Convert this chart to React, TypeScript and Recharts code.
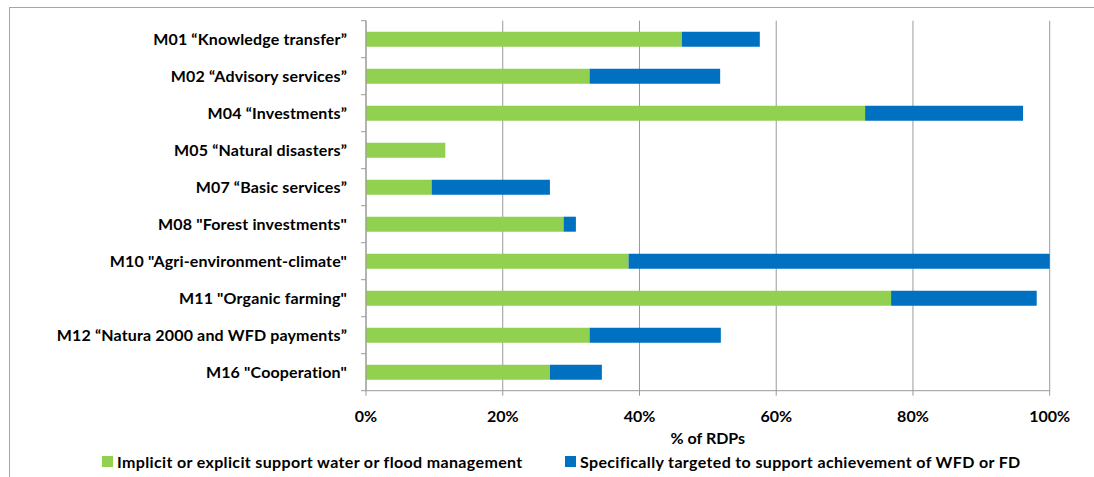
import React from 'react';
import { BarChart, Bar, XAxis, YAxis, CartesianGrid } from 'recharts';

const categories = [
  'M01 “Knowledge transfer”',
  'M02 “Advisory services”',
  'M04 “Investments”',
  'M05 “Natural disasters”',
  'M07 “Basic services”',
  'M08 "Forest investments"',
  'M10 "Agri-environment-climate"',
  'M11 "Organic farming"',
  'M12 “Natura 2000 and WFD payments”',
  'M16 "Cooperation"',
];

const implicitSupport = [46.2, 32.7, 73.0, 11.6, 9.6, 28.9, 38.4, 76.8, 32.7, 26.9];
const specificallyTargeted = [11.4, 19.1, 23.1, 0, 17.3, 1.8, 61.6, 21.3, 19.2, 7.6];

const seriesNames = [
  'Implicit or explicit support water or flood management',
  'Specifically targeted to support achievement of WFD or FD',
];
const seriesColors = ['#92D050', '#0070C0'];

const xTicks = [0, 20, 40, 60, 80, 100];
const xAxisTitle = '% of RDPs';

const data = categories.map((name, i) => ({
  name,
  implicit: implicitSupport[i],
  specific: specificallyTargeted[i],
}));

const FONT = 'Lato, "Liberation Sans", sans-serif';
const GRID = '#9a9a9a';
const TICK_SIZE = 5;
const TICK_MARGIN = 14;

const YTick = (props: any) => {
  const { x, y, payload, index, visibleTicksCount } = props;
  const axisX = x + TICK_SIZE + TICK_MARGIN;
  const half = payload && payload.offset ? payload.offset : 0;
  const isLast = visibleTicksCount ? index === visibleTicksCount - 1 : false;
  return (
    <g>
      <line x1={axisX - TICK_SIZE} x2={axisX} y1={y - half} y2={y - half} stroke={GRID} />
      {isLast && <line x1={axisX - TICK_SIZE} x2={axisX} y1={y + half} y2={y + half} stroke={GRID} />}
      <text
        x={x}
        y={y}
        dy="0.36em"
        textAnchor="end"
        fontFamily={FONT}
        fontWeight={700}
        fontSize={16}
        letterSpacing={0.15}
        fill="#000"
      >
        {payload.value}
      </text>
    </g>
  );
};

const XTick = (props: any) => {
  const { x, y, payload } = props;
  return (
    <text x={x} y={y} dy={24} textAnchor="middle" fontFamily={FONT} fontWeight={700} fontSize={16} fill="#000">
      {`${payload.value}%`}
    </text>
  );
};

const XTitle = (props: any) => {
  const vb = props.viewBox || {};
  return (
    <text x={vb.x + vb.width / 2} y={vb.y + 53} textAnchor="middle" fontFamily={FONT} fontWeight={700} fontSize={16} fill="#000">
      {xAxisTitle}
    </text>
  );
};

const legendLeft = [102, 565];

export default function App() {
  return (
    <div style={{ position: 'absolute', left: 0, top: 0, width: 1094, height: 477, background: '#fff', overflow: 'hidden' }}>
      <div
        style={{
          position: 'absolute',
          left: 9,
          top: 7,
          width: 1100,
          height: 480,
          borderLeft: '1px solid #a6a6a6',
          borderTop: '1px solid #a6a6a6',
        }}
      />
      <div style={{ position: 'absolute', left: 0, top: 0 }}>
        <BarChart
          width={1094}
          height={477}
          data={data}
          layout="vertical"
          margin={{ top: 20.7, right: 44.3, bottom: 56.3, left: 0 }}
        >
          <CartesianGrid horizontal={false} stroke={GRID} strokeWidth={1} />
          <XAxis
            type="number"
            domain={[0, 100]}
            ticks={xTicks}
            interval={0}
            height={30}
            tickSize={TICK_SIZE}
            axisLine={{ stroke: GRID }}
            tickLine={{ stroke: GRID }}
            tick={<XTick />}
            label={<XTitle />}
          />
          <YAxis
            type="category"
            dataKey="name"
            width={366}
            interval={0}
            tickSize={TICK_SIZE}
            tickMargin={TICK_MARGIN}
            tickLine={false}
            axisLine={{ stroke: GRID }}
            tick={<YTick />}
          />
          <Bar dataKey="implicit" name={seriesNames[0]} stackId="a" fill={seriesColors[0]} barSize={15} isAnimationActive={false} />
          <Bar dataKey="specific" name={seriesNames[1]} stackId="a" fill={seriesColors[1]} barSize={15} isAnimationActive={false} />
        </BarChart>
      </div>
      {seriesNames.map((n, i) => (
        <div
          key={n}
          style={{
            position: 'absolute',
            left: legendLeft[i],
            top: 452,
            height: 18,
            display: 'flex',
            alignItems: 'center',
            whiteSpace: 'nowrap',
            fontFamily: FONT,
            fontWeight: 700,
            fontSize: 16,
            letterSpacing: 0.35,
            color: '#000',
          }}
        >
          <span style={{ display: 'inline-block', width: 11, height: 11, background: seriesColors[i], marginRight: 4 }} />
          <span>{n}</span>
        </div>
      ))}
    </div>
  );
}
